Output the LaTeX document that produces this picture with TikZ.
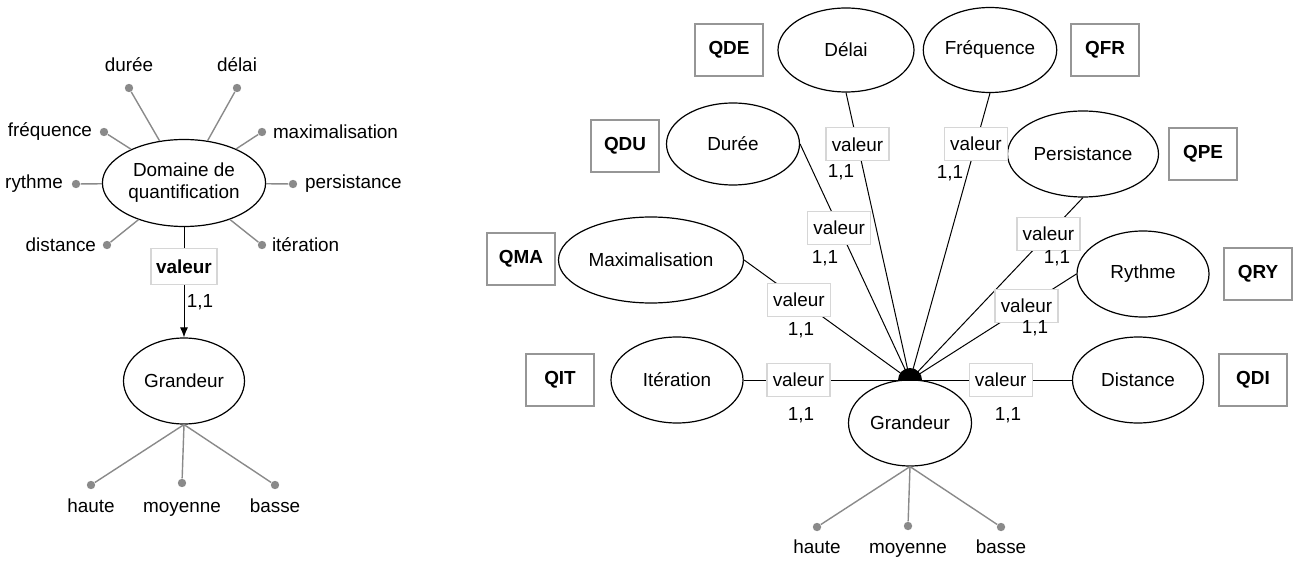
\documentclass[tikz,border=0pt]{standalone}
\usepackage{fontspec}
\setmainfont{Liberation Sans}
\usepackage{tikz}
\usetikzlibrary{shapes.geometric,arrows.meta,positioning}
\definecolor{spokegray}{HTML}{8A8A8A}
\definecolor{codegray}{HTML}{969696}
\definecolor{valgray}{HTML}{D6D6D6}

\begin{document}
\begin{tikzpicture}[x=0.5pt, y=-0.5pt, font=\fontsize{9.45}{11}\selectfont,
  concept/.style={draw, ellipse, line width=0.6pt, inner sep=1pt, align=center, minimum width=66pt, minimum height=43pt},
  codebox/.style={draw=codegray, line width=0.8pt, minimum width=34pt, minimum height=26pt, font=\fontsize{9.45}{11}\selectfont\bfseries},
  valbox/.style={draw=valgray, fill=white, line width=0.6pt, minimum width=31.5pt, minimum height=16.5pt, inner sep=1pt},
  dot/.style={circle, fill=spokegray, inner sep=0pt, minimum size=4.2pt},
  spoke/.style={draw=spokegray, line width=0.7pt},
  link/.style={draw, line width=0.5pt},
  lbl/.style={inner sep=1pt},
  level/.style={inner sep=1pt, text height=7pt, text depth=2pt}]
  \useasboundingbox (0,0) rectangle (1295,561);

  % left: domain of quantification
  \node[concept, minimum width=81.5pt, minimum height=43.5pt] (domaine) at (184,183) {Domaine de\\quantification};
  \node[concept, minimum width=60.5pt] (grandeurL) at (184,381) {Grandeur};

  \node[dot] (dDuree) at (129,88) {};
  \node[dot] (dDelai) at (237,88) {};
  \node[dot] (dFrequence) at (104,132) {};
  \node[dot] (dMaximalisation) at (262,132) {};
  \node[dot] (dRythme) at (76,184) {};
  \node[dot] (dPersistance) at (293,184) {};
  \node[dot] (dDistance) at (107,245) {};
  \node[dot] (dIteration) at (262,245) {};
  \node[lbl, above=4.5pt of dDuree] (lDuree) {durée};
  \node[lbl, above=4.5pt of dDelai] (lDelai) {délai};
  \node[lbl, left=2.5pt of dFrequence] (lFrequence) {fréquence};
  \node[lbl, right=2pt of dMaximalisation] (lMaximalisation) {maximalisation};
  \node[lbl, left=3pt of dRythme] (lRythme) {rythme};
  \node[lbl, right=2.5pt of dPersistance] (lPersistance) {persistance};
  \node[lbl, left=2pt of dDistance] (lDistance) {distance};
  \node[lbl, right=1.5pt of dIteration] (lIteration) {itération};

  \draw[spoke] (domaine) -- (dDuree);
  \draw[spoke] (domaine) -- (dDelai);
  \draw[spoke] (domaine) -- (dFrequence);
  \draw[spoke] (domaine) -- (dMaximalisation);
  \draw[spoke] (domaine) -- (dRythme);
  \draw[spoke] (domaine) -- (dPersistance);
  \draw[spoke] (domaine) -- (dDistance);
  \draw[spoke] (domaine) -- (dIteration);

  \draw[link, -{Latex[length=5pt, width=4pt]}] (domaine) -- node[valbox, pos=0.36, font=\fontsize{9.45}{11}\selectfont\bfseries, minimum width=33pt, minimum height=18pt] (valL) {valeur} (grandeurL);
  \node[lbl] (cardL) at (200,302) {1,1};

  \node[dot] (dHauteL) at (91,485) {};
  \node[dot] (dMoyenneL) at (182,483) {};
  \node[dot] (dBasseL) at (275,485) {};
  \node[level, below=3pt of dHauteL] {haute};
  \node[level, below=4pt of dMoyenneL] {moyenne};
  \node[level, below=3pt of dBasseL] {basse};
  \draw[spoke] (grandeurL.south) -- (dHauteL);
  \draw[spoke] (grandeurL.south) -- (dMoyenneL);
  \draw[spoke] (grandeurL.south) -- (dBasseL);

  % right: one concept per domain
  \node[concept, minimum width=61.5pt] (grandeurR) at (910,423) {Grandeur};
  \coordinate (hub) at (910,380);

  \node[concept, minimum width=68pt, minimum height=42pt] (delai) at (846,50) {Délai};
  \node[concept, minimum width=66.5pt, minimum height=42.5pt] (frequence) at (990,50) {Fréquence};
  \node[concept, minimum width=66.5pt, minimum height=41pt] (duree) at (733,144) {Durée};
  \node[concept, minimum width=75.5pt] (persistance) at (1083,154) {Persistance};
  \node[concept, minimum width=92.5pt] (maximalisation) at (651,260) {Maximalisation};
  \node[concept] (rythme) at (1143,274) {Rythme};
  \node[concept] (iteration) at (677,380) {Itération};
  \node[concept, minimum width=65.5pt] (distance) at (1138,380) {Distance};

  \node[codebox] (qde) at (729,50) {QDE};
  \node[codebox] (qfr) at (1105,50) {QFR};
  \node[codebox] (qdu) at (625,146) {QDU};
  \node[codebox] (qpe) at (1203,154) {QPE};
  \node[codebox] (qma) at (521,259) {QMA};
  \node[codebox] (qry) at (1258,274) {QRY};
  \node[codebox] (qit) at (560,380) {QIT};
  \node[codebox] (qdi) at (1253,380) {QDI};

  \draw[link] (delai.south) -- node[valbox, pos=0.18] (vDelai) {valeur} (hub);
  \draw[link] (frequence.south) -- node[valbox, pos=0.177] (vFrequence) {valeur} (hub);
  \draw[link] (duree.east) -- node[valbox, pos=0.356] (vDuree) {valeur} (hub);
  \draw[link] (persistance.south) -- node[valbox, pos=0.2] (vPersistance) {valeur} (hub);
  \draw[link] (maximalisation.east) -- node[valbox, pos=0.33] (vMaximalisation) {valeur} (hub);
  \draw[link] (rythme.west) -- node[valbox, pos=0.3] (vRythme) {valeur} (hub);
  \draw[link] (iteration.east) -- node[valbox, pos=0.33] (vIteration) {valeur} (hub);
  \draw[link] (distance.west) -- node[valbox, pos=0.44] (vDistance) {valeur} (hub);
  \fill (hub) ++(-12,0) arc[start angle=180, end angle=360, radius=12] -- cycle;

  \node[lbl] (cDelai) at (841,172) {1,1};
  \node[lbl] (cFrequence) at (950,173) {1,1};
  \node[lbl] (cDuree) at (825,258) {1,1};
  \node[lbl] (cPersistance) at (1057,258) {1,1};
  \node[lbl] (cMaximalisation) at (801,330) {1,1};
  \node[lbl] (cRythme) at (1035,328) {1,1};
  \node[lbl] (cIteration) at (801,415) {1,1};
  \node[lbl] (cDistance) at (1008,415) {1,1};

  \node[dot] (dHauteR) at (817,527) {};
  \node[dot] (dMoyenneR) at (908,526) {};
  \node[dot] (dBasseR) at (1001,527) {};
  \node[level, below=2.5pt of dHauteR] {haute};
  \node[level, below=3pt of dMoyenneR] {moyenne};
  \node[level, below=2.5pt of dBasseR] {basse};
  \draw[spoke] (grandeurR.south) -- (dHauteR);
  \draw[spoke] (grandeurR.south) -- (dMoyenneR);
  \draw[spoke] (grandeurR.south) -- (dBasseR);
\end{tikzpicture}
\end{document}
